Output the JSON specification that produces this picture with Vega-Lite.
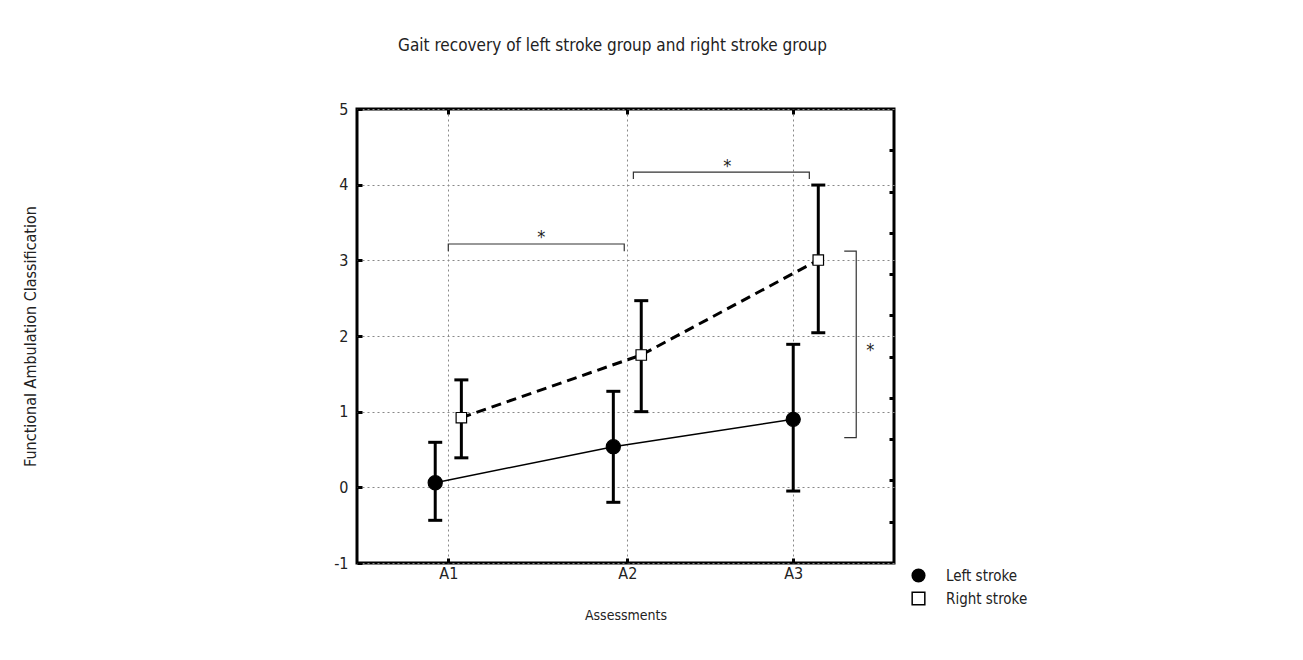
{
  "$schema": "https://vega.github.io/schema/vega-lite/v6.json",
  "width": 537,
  "height": 454,
  "autosize": "none",
  "padding": {"left": 357, "top": 109, "right": 409, "bottom": 97},
  "background": "white",
  "config": {
    "font": "DejaVu Sans Condensed, Liberation Sans, sans-serif",
    "view": {"stroke": "black", "strokeWidth": 3},
    "axis": {
      "domain": false,
      "tickColor": "black",
      "tickWidth": 3,
      "tickSize": -5,
      "labelFont": "DejaVu Sans Condensed, Liberation Sans, sans-serif",
      "labelFontSize": 16,
      "labelColor": "#222",
      "titleFont": "DejaVu Sans Condensed, Liberation Sans, sans-serif",
      "titleFontWeight": "normal",
      "titleColor": "#222",
      "gridColor": "#888",
      "gridDash": [2, 3],
      "gridWidth": 1
    }
  },
  "title": {
    "text": "Gait recovery of left stroke group and right stroke group",
    "font": "DejaVu Sans Condensed, Liberation Sans, sans-serif",
    "fontSize": 17,
    "fontWeight": "normal",
    "color": "#222",
    "anchor": "middle",
    "frame": "group",
    "dx": -13,
    "offset": 46
  },
  "datasets": {
    "points": [
      {"group": "Left stroke", "assessment": "A1", "x": 0.927, "mean": 0.061, "lo": -0.436, "hi": 0.595},
      {"group": "Left stroke", "assessment": "A2", "x": 1.922, "mean": 0.537, "lo": -0.198, "hi": 1.269},
      {"group": "Left stroke", "assessment": "A3", "x": 2.927, "mean": 0.899, "lo": -0.049, "hi": 1.89},
      {"group": "Right stroke", "assessment": "A1", "x": 1.073, "mean": 0.92, "lo": 0.39, "hi": 1.42},
      {"group": "Right stroke", "assessment": "A2", "x": 2.078, "mean": 1.749, "lo": 1.0, "hi": 2.467},
      {"group": "Right stroke", "assessment": "A3", "x": 3.067, "mean": 3.004, "lo": 2.043, "hi": 3.995}
    ],
    "brackets": [
      {"b": 1, "o": 1, "x": 1.0, "y": 3.12},
      {"b": 1, "o": 2, "x": 1.0, "y": 3.216},
      {"b": 1, "o": 3, "x": 1.983, "y": 3.216},
      {"b": 1, "o": 4, "x": 1.983, "y": 3.12},
      {"b": 2, "o": 1, "x": 2.034, "y": 4.075},
      {"b": 2, "o": 2, "x": 2.034, "y": 4.167},
      {"b": 2, "o": 3, "x": 3.017, "y": 4.167},
      {"b": 2, "o": 4, "x": 3.017, "y": 4.075},
      {"b": 3, "o": 1, "x": 3.212, "y": 3.123},
      {"b": 3, "o": 2, "x": 3.279, "y": 3.123},
      {"b": 3, "o": 3, "x": 3.279, "y": 0.656},
      {"b": 3, "o": 4, "x": 3.212, "y": 0.656}
    ],
    "stars": [
      {"x": 1.52, "y": 3.30, "label": "*"},
      {"x": 2.559, "y": 4.24, "label": "*"},
      {"x": 3.358, "y": 1.80, "label": "*"}
    ]
  },
  "resolve": {"axis": {"x": "independent", "y": "independent"}},
  "layer": [
    {
      "data": {"name": "brackets"},
      "mark": {"type": "line", "color": "#333", "strokeWidth": 1.2},
      "encoding": {
        "x": {
          "field": "x", "type": "quantitative",
          "scale": {"domain": [0.49, 3.49], "nice": false, "zero": false},
          "axis": {
            "orient": "bottom",
            "values": [1, 2, 2.927],
            "labelExpr": "datum.value == 1 ? 'A1' : datum.value == 2 ? 'A2' : 'A3'",
            "labelPadding": 7,
            "grid": true,
            "title": "Assessments",
            "titleFontSize": 14,
            "titleY": 52,
            "titleBaseline": "middle"
          }
        },
        "y": {
          "field": "y", "type": "quantitative",
          "scale": {"domain": [-1, 5], "nice": false, "zero": false},
          "axis": {
            "orient": "left",
            "values": [-1, 0, 1, 2, 3, 4, 5],
            "labelExpr": "datum.value < 0 ? '-' + abs(datum.value) : '' + datum.value",
            "labelPadding": 14,
            "grid": true,
            "title": "Functional Ambulation Classification",
            "titleFontSize": 16,
            "titleX": -327,
            "titleY": 227,
            "titleAngle": -90,
            "titleAlign": "center",
            "titleBaseline": "middle"
          }
        },
        "detail": {"field": "b", "type": "nominal"},
        "order": {"field": "o", "type": "quantitative"}
      }
    },
    {
      "data": {"name": "stars"},
      "mark": {"type": "text", "fontSize": 18, "color": "#222", "baseline": "middle", "align": "center"},
      "encoding": {
        "x": {
          "field": "x", "type": "quantitative",
          "axis": {"orient": "top", "values": [1, 2, 2.927], "labels": false, "grid": false, "title": null}
        },
        "y": {
          "field": "y", "type": "quantitative",
          "axis": {
            "orient": "right",
            "values": [-0.4545, 0.0909, 0.6364, 1.1818, 1.7273, 2.2727, 2.8182, 3.3636, 3.9091, 4.4545],
            "labels": false, "grid": false, "title": null
          }
        },
        "text": {"field": "label"}
      }
    },
    {
      "data": {"name": "points"},
      "transform": [{"filter": "datum.group == 'Left stroke'"}],
      "mark": {"type": "line", "color": "black", "strokeWidth": 1.5},
      "encoding": {
        "x": {"field": "x", "type": "quantitative", "axis": null},
        "y": {"field": "mean", "type": "quantitative", "axis": null}
      }
    },
    {
      "data": {"name": "points"},
      "transform": [{"filter": "datum.group == 'Right stroke'"}],
      "mark": {"type": "line", "color": "black", "strokeWidth": 3, "strokeDash": [10, 6]},
      "encoding": {
        "x": {"field": "x", "type": "quantitative", "axis": null},
        "y": {"field": "mean", "type": "quantitative", "axis": null}
      }
    },
    {
      "data": {"name": "points"},
      "mark": {"type": "rule", "color": "black", "strokeWidth": 3},
      "encoding": {
        "x": {"field": "x", "type": "quantitative", "axis": null},
        "y": {"field": "lo", "type": "quantitative", "axis": null},
        "y2": {"field": "hi"}
      }
    },
    {
      "data": {"name": "points"},
      "mark": {"type": "tick", "orient": "horizontal", "color": "black", "opacity": 1, "size": 14, "thickness": 3},
      "encoding": {
        "x": {"field": "x", "type": "quantitative", "axis": null},
        "y": {"field": "hi", "type": "quantitative", "axis": null}
      }
    },
    {
      "data": {"name": "points"},
      "mark": {"type": "tick", "orient": "horizontal", "color": "black", "opacity": 1, "size": 14, "thickness": 3},
      "encoding": {
        "x": {"field": "x", "type": "quantitative", "axis": null},
        "y": {"field": "lo", "type": "quantitative", "axis": null}
      }
    },
    {
      "data": {"name": "points"},
      "mark": {"type": "point", "filled": true, "stroke": "black", "strokeWidth": 1.2, "opacity": 1},
      "encoding": {
        "x": {"field": "x", "type": "quantitative", "axis": null},
        "y": {"field": "mean", "type": "quantitative", "axis": null},
        "fill": {"condition": {"test": "datum.group == 'Left stroke'", "value": "black"}, "value": "white"},
        "size": {"condition": {"test": "datum.group == 'Left stroke'", "value": 200}, "value": 110},
        "shape": {"condition": {"test": "datum.group == 'Left stroke'", "value": "circle"}, "value": "square"}
      }
    },
    {
      "data": {"name": "points"},
      "transform": [{"filter": "false"}],
      "mark": {"type": "point", "filled": true, "stroke": "black", "strokeWidth": 1.5, "opacity": 1},
      "encoding": {
        "shape": {
          "field": "group", "type": "nominal",
          "scale": {"domain": ["Left stroke", "Right stroke"], "range": ["circle", "square"]},
          "legend": {
            "orient": "none",
            "legendX": 554,
            "legendY": 459,
            "title": null,
            "labelFont": "DejaVu Sans Condensed, Liberation Sans, sans-serif",
            "labelFontSize": 15,
            "labelColor": "#222",
            "labelOffset": 20,
            "symbolSize": 160,
            "symbolStrokeColor": "black",
            "symbolStrokeWidth": 1.5,
            "symbolOpacity": 1,
            "rowPadding": 4,
            "encode": {"symbols": {"update": {"stroke": {"value": "black"}, "strokeWidth": {"value": 1.5}, "opacity": {"value": 1}}}}
          }
        },
        "fill": {
          "field": "group", "type": "nominal",
          "scale": {"domain": ["Left stroke", "Right stroke"], "range": ["black", "white"]},
          "legend": {
            "orient": "none",
            "legendX": 554,
            "legendY": 459,
            "title": null,
            "labelFont": "DejaVu Sans Condensed, Liberation Sans, sans-serif",
            "labelFontSize": 15,
            "labelColor": "#222",
            "labelOffset": 20,
            "symbolSize": 160,
            "symbolStrokeColor": "black",
            "symbolStrokeWidth": 1.5,
            "symbolOpacity": 1,
            "rowPadding": 4,
            "encode": {"symbols": {"update": {"stroke": {"value": "black"}, "strokeWidth": {"value": 1.5}, "opacity": {"value": 1}}}}
          }
        }
      }
    }
  ]
}
